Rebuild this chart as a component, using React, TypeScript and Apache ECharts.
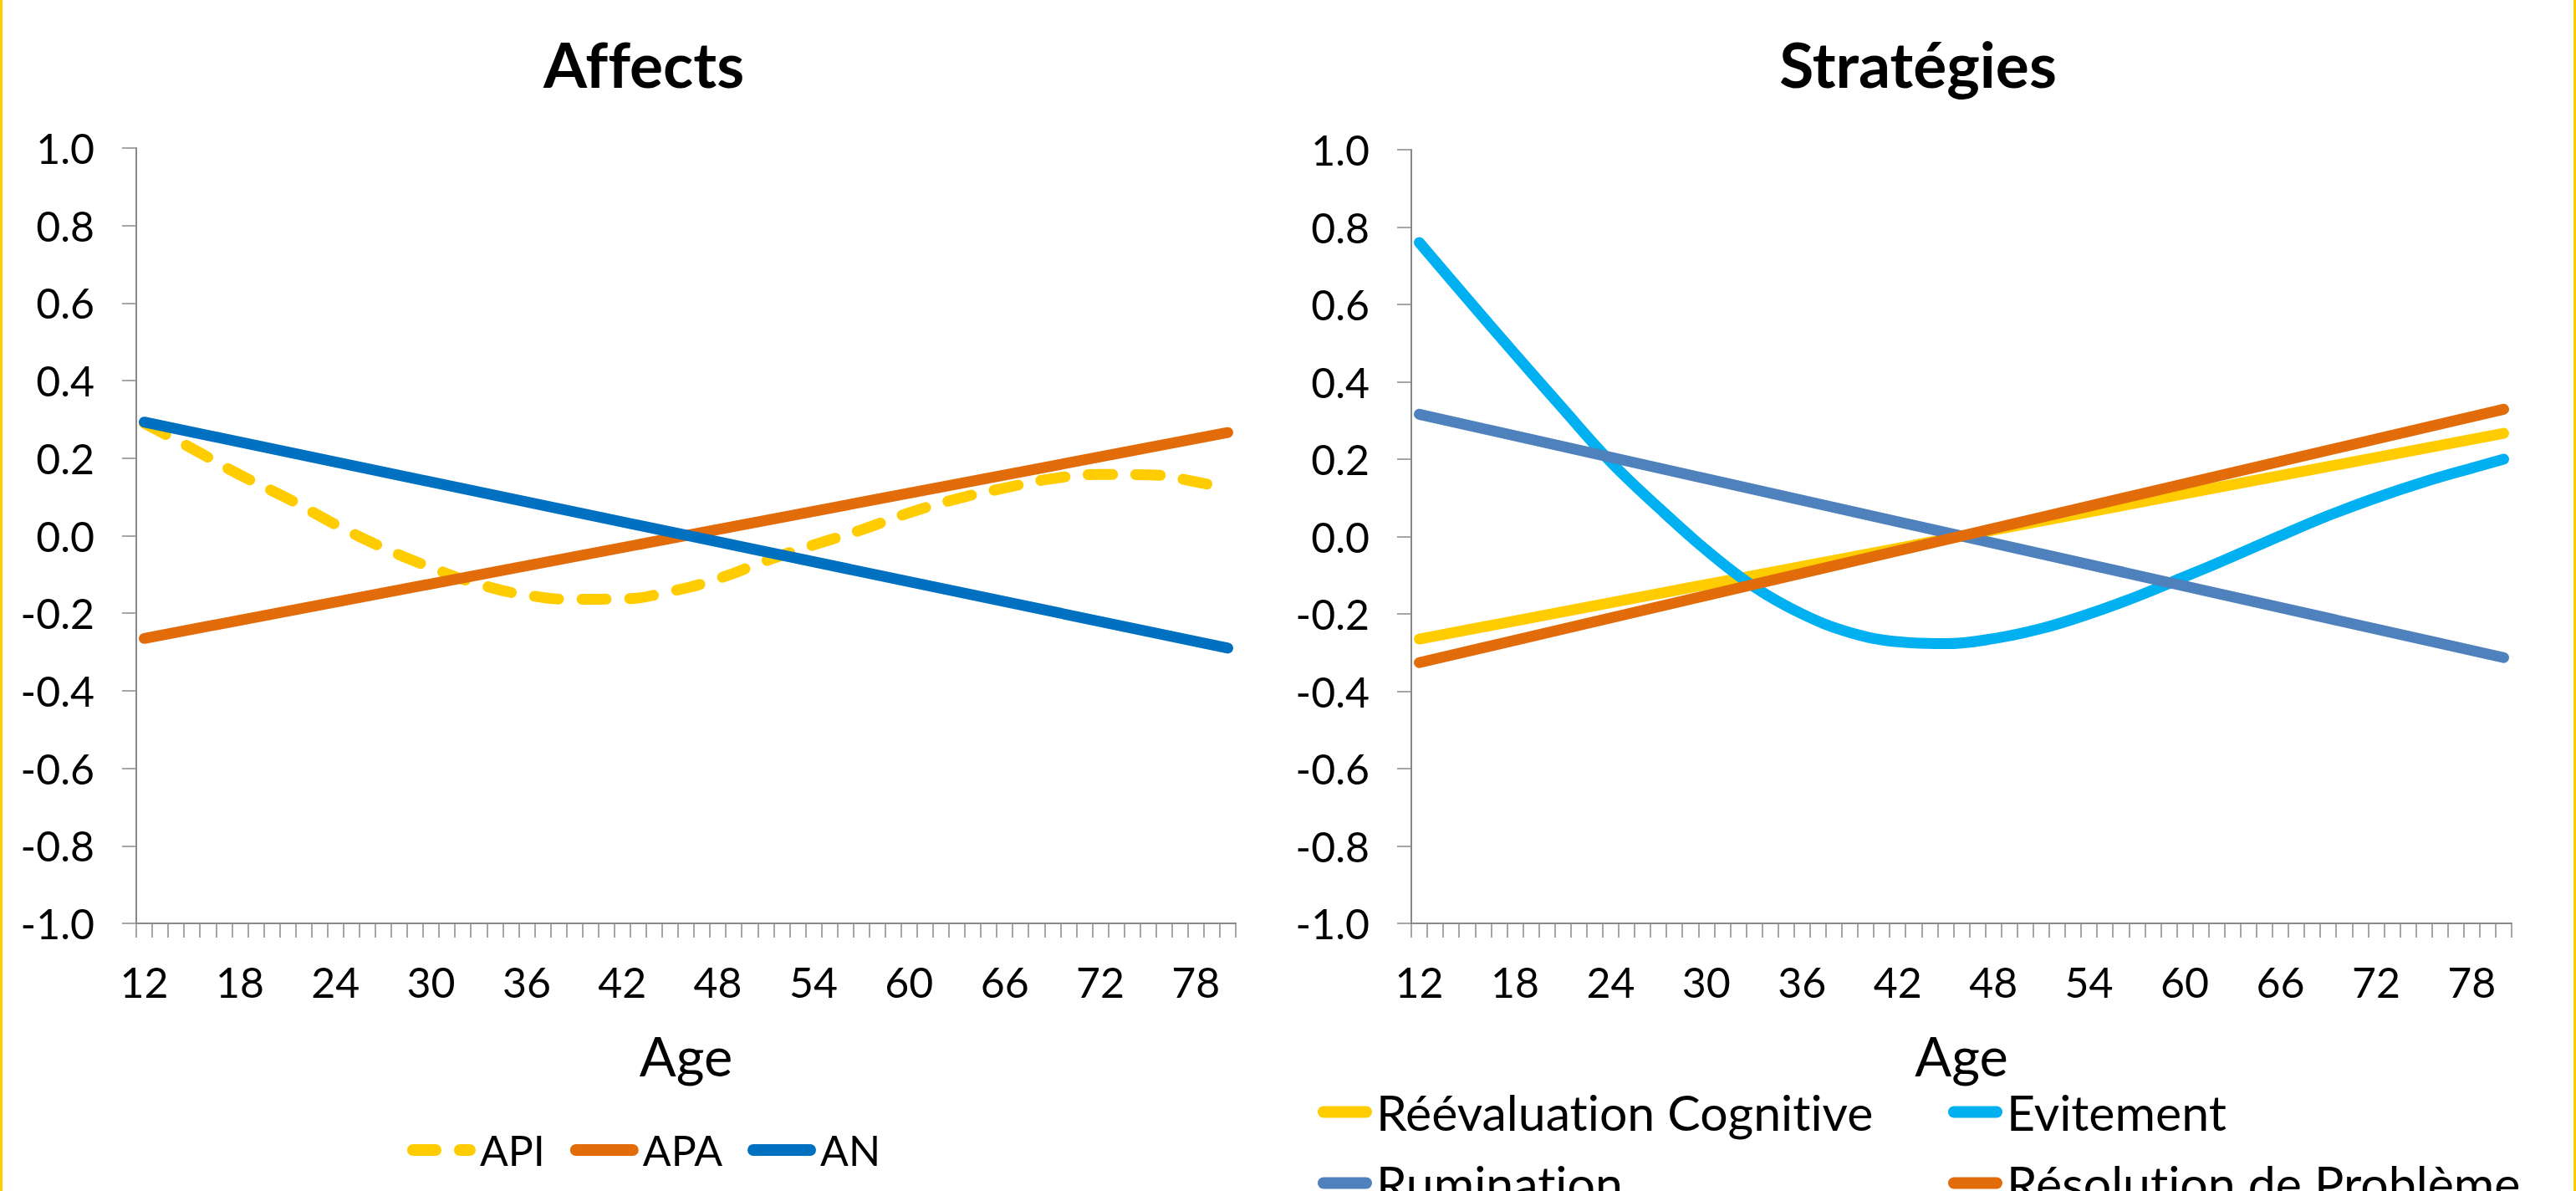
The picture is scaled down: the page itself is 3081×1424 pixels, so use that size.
import React, { useEffect, useRef } from "react";
import * as echarts from "echarts";

// ---- categories (age axis) ----
const ageCategories: string[] = [];
for (let a = 12; a <= 80; a++) ageCategories.push(String(a));

// ---- titles / labels ----
const affectsTitle = "Affects";
const strategiesTitle = "Stratégies";
const xAxisName = "Age";

// ---- Affects series ----
const apiAges = [12, 15, 18, 21, 24, 27, 30, 33, 36, 39, 42, 45, 48, 51, 54, 57, 60, 63, 66, 69, 72, 75, 78, 80];
const apiValues = [0.29, 0.225, 0.157, 0.096, 0.029, -0.031, -0.082, -0.125, -0.153, -0.164, -0.163, -0.144, -0.111, -0.065, -0.024, 0.015, 0.059, 0.095, 0.123, 0.147, 0.158, 0.157, 0.139, 0.12];
const apaAges = [12, 80];
const apaValues = [-0.265, 0.266];
const anAges = [12, 80];
const anValues = [0.293, -0.29];

// ---- Stratégies series ----
const reevalAges = [12, 80];
const reevalValues = [-0.265, 0.267];
const evitAges = [12, 15, 18, 21, 24, 27, 30, 33, 36, 39, 42, 45, 48, 51, 54, 57, 60, 63, 66, 69, 72, 75, 78, 80];
const evitValues = [0.76, 0.615, 0.472, 0.331, 0.193, 0.075, -0.035, -0.13, -0.2, -0.248, -0.272, -0.277, -0.264, -0.238, -0.2, -0.155, -0.104, -0.052, 0.002, 0.054, 0.1, 0.141, 0.177, 0.2];
const rumAges = [12, 80];
const rumValues = [0.316, -0.313];
const resolAges = [12, 80];
const resolValues = [-0.326, 0.329];

const FONT = "Lato";
const AXIS_COLOR = "#898989";
const BORDER_COLOR = "#FFCC00";

const CAPSULE_82 = "path://M7,0H75A7,7 0 0 1 75,14H7A7,7 0 0 1 7,0Z";
const DASHED_82 = "path://M7,0H34A7,7 0 0 1 34,14H7A7,7 0 0 1 7,0Z M63,0H75A7,7 0 0 1 75,14H63A7,7 0 0 1 63,0Z";
const CAPSULE_65 = "path://M7,0H58A7,7 0 0 1 58,14H7A7,7 0 0 1 7,0Z";

function toSeriesData(ages: number[], values: number[]) {
  const arr: (number | null)[] = ageCategories.map(() => null);
  ages.forEach((a, i) => {
    arr[ageCategories.indexOf(String(a))] = values[i];
  });
  return arr;
}

function axes() {
  return {
    xAxis: {
      type: "category",
      data: ageCategories,
      boundaryGap: true,
      axisLine: { onZero: false, lineStyle: { color: AXIS_COLOR, width: 2 } },
      axisTick: { show: true, interval: 0, length: 17, lineStyle: { color: AXIS_COLOR, width: 1.5 } },
      axisLabel: { interval: 5, margin: 45, fontFamily: FONT, fontSize: 50, color: "#000" },
      splitLine: { show: false },
      name: xAxisName,
      nameLocation: "middle",
      nameGap: 125,
      nameTextStyle: { fontFamily: FONT, fontSize: 65, color: "#000" },
    },
    yAxis: {
      type: "value",
      min: -1,
      max: 1,
      interval: 0.2,
      axisLine: { show: true, lineStyle: { color: AXIS_COLOR, width: 2 } },
      axisTick: { show: true, length: 17, lineStyle: { color: AXIS_COLOR, width: 1.5 } },
      axisLabel: {
        margin: 50,
        fontFamily: FONT,
        fontSize: 50,
        color: "#000",
        formatter: (v: number) => v.toFixed(1),
      },
      splitLine: { show: false },
    },
  };
}

function lineSeries(name: string, data: (number | null)[], color: string, smooth: number | boolean, dashed = false) {
  return {
    type: "line",
    name,
    data,
    connectNulls: true,
    smooth,
    symbol: "none",
    showSymbol: false,
    lineStyle: {
      color,
      width: 13,
      cap: "round",
      join: "round",
      type: dashed ? [29, 28] : "solid",
    },
    itemStyle: { color },
    emphasis: { disabled: true },
  };
}

const titleStyle = { fontFamily: FONT, fontWeight: "bold", fontSize: 75, color: "#000" };

const leftOption = {
  animation: false,
  backgroundColor: "#fff",
  title: { text: affectsTitle, left: "center", top: 38, padding: 0, textStyle: titleStyle },
  grid: { left: 163, right: 62, top: 177, bottom: 320 },
  ...axes(),
  legend: {
    data: [
      { name: "API", icon: DASHED_82 },
      { name: "APA", icon: CAPSULE_82 },
      { name: "AN", icon: CAPSULE_82 },
    ],
    left: "center",
    top: 1350,
    padding: 0,
    itemWidth: 82,
    itemHeight: 14,
    itemGap: 30,
    itemStyle: { borderWidth: 0 },
    textStyle: { fontFamily: FONT, fontSize: 50, color: "#000" },
  },
  graphic: [
    { type: "rect", left: 0, top: 0, shape: { width: 3, height: 1424 }, style: { fill: BORDER_COLOR } },
  ],
  series: [
    lineSeries("API", toSeriesData(apiAges, apiValues), "#FFCC00", 0.5, true),
    lineSeries("APA", toSeriesData(apaAges, apaValues), "#E36C0A", false),
    lineSeries("AN", toSeriesData(anAges, anValues), "#0070C0", false),
  ],
};

const rightLegendText = { fontFamily: FONT, fontSize: 59, lineHeight: 59, color: "#000" };

const rightLegendBase = {
  orient: "vertical",
  top: 1300,
  height: 400,
  padding: 0,
  itemWidth: 65,
  itemHeight: 14,
  itemGap: 26,
  itemStyle: { borderWidth: 0 },
  textStyle: rightLegendText,
};

const rightOption = {
  animation: false,
  backgroundColor: "#fff",
  title: { text: strategiesTitle, left: 754, textAlign: "center", top: 38, padding: 0, textStyle: titleStyle },
  grid: { left: 148, right: 77, top: 179, bottom: 320 },
  ...axes(),
  legend: [
    {
      ...rightLegendBase,
      left: 36,
      data: [
        { name: "Réévaluation Cognitive", icon: CAPSULE_65 },
        { name: "Rumination", icon: CAPSULE_65 },
      ],
    },
    {
      ...rightLegendBase,
      left: 790,
      data: [
        { name: "Evitement", icon: CAPSULE_65 },
        { name: "Résolution de Problème", icon: CAPSULE_65 },
      ],
    },
  ],
  graphic: [
    { type: "rect", right: 0, top: 0, shape: { width: 3, height: 1424 }, style: { fill: BORDER_COLOR } },
  ],
  series: [
    lineSeries("Réévaluation Cognitive", toSeriesData(reevalAges, reevalValues), "#FFCC00", false),
    lineSeries("Evitement", toSeriesData(evitAges, evitValues), "#00B0F0", 0.4),
    lineSeries("Rumination", toSeriesData(rumAges, rumValues), "#4F81BD", false),
    lineSeries("Résolution de Problème", toSeriesData(resolAges, resolValues), "#E36C0A", false),
  ],
};

function ChartBox({ option, width }: { option: any; width: number }) {
  const ref = useRef<HTMLDivElement | null>(null);
  useEffect(() => {
    if (!ref.current) return;
    const chart = echarts.init(ref.current, undefined, { renderer: "svg" });
    chart.setOption(option);
    return () => chart.dispose();
  }, [option]);
  return <div ref={ref} style={{ width, height: 1424 }} />;
}

export default function App() {
  return (
    <div
      style={{
        position: "fixed",
        left: 0,
        top: 0,
        width: 3081,
        height: 1424,
        display: "flex",
        background: "#fff",
        overflow: "hidden",
      }}
    >
      <style>{"svg text { font-variant-ligatures: none !important; font-feature-settings: 'liga' 0, 'clig' 0 !important; }"}</style>
      <ChartBox option={leftOption} width={1540} />
      <ChartBox option={rightOption} width={1541} />
    </div>
  );
}
